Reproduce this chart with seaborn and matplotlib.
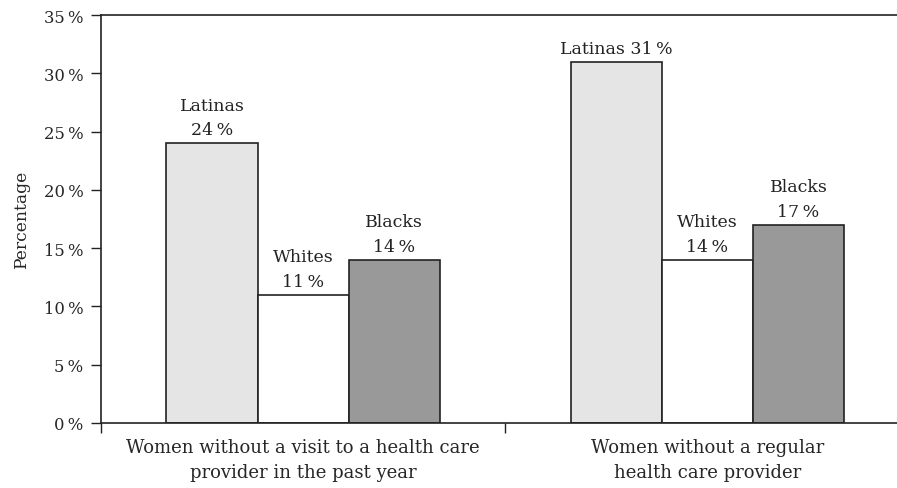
import matplotlib
matplotlib.use("Agg")
import matplotlib.pyplot as plt
from matplotlib.ticker import FixedLocator
import seaborn as sns
import pandas as pd

# Chart data
measures = ["Women without a visit to a health care\nprovider in the past year",
            "Women without a regular\nhealth care provider"]
groups = ["Latinas", "Whites", "Blacks"]
visit_values = [24, 11, 14]
regular_values = [31, 14, 17]
y_ticks = [0, 5, 10, 15, 20, 25, 30, 35]

df = pd.DataFrame({
    "measure": [measures[0]] * 3 + [measures[1]] * 3,
    "group": groups * 2,
    "value": visit_values + regular_values,
})

sns.set_theme(style="white")
plt.rcParams["font.family"] = ["DejaVu Serif"]
plt.rcParams["text.color"] = "#222222"

fig = plt.figure(figsize=(8.97, 4.89), dpi=100)
ax = fig.add_axes([101 / 897, 65 / 489, 796 / 897, 408 / 489])

palette = {"Latinas": "#e5e5e5", "Whites": "#ffffff", "Blacks": "#999999"}
sns.barplot(data=df, x="measure", y="value", hue="group", order=measures,
            hue_order=groups, palette=palette, width=0.676, saturation=1,
            edgecolor="#222222", linewidth=1.2, legend=False, ax=ax)

ax.set_xlim(-0.5, 1.469)
ax.set_ylim(0, 35)

# value labels above each bar
for container, grp in zip(ax.containers, groups):
    for bar, m in zip(container, measures):
        v = bar.get_height()
        cx = bar.get_x() + bar.get_width() / 2
        if grp == "Latinas" and m == measures[1]:
            txt = f"{grp} {v:.0f}\u2009%"
        else:
            txt = f"{grp}\n{v:.0f}\u2009%"
        ax.annotate(txt, (cx, v), xytext=(0, 3.5), textcoords="offset points",
                    ha="center", va="bottom", fontsize=12.5, linespacing=1.6,
                    color="#222222")

ax.yaxis.set_major_locator(FixedLocator(y_ticks))
ax.set_yticklabels([f"{t}\u2009%" for t in y_ticks], fontsize=11.8)
ax.tick_params(axis="y", direction="out", length=7.2, width=1, color="#222222",
               left=True, pad=5.5)

ax.set_xticks([0, 1])
ax.set_xticklabels(measures, fontsize=13, linespacing=1.5)
ax.tick_params(axis="x", which="major", length=0, pad=11)
ax.set_xticks([-0.5, 0.5], minor=True)
ax.tick_params(axis="x", which="minor", direction="out", length=7.2, width=1,
               color="#222222", bottom=True)

ax.set_xlabel("")
ax.set_ylabel("Percentage", fontsize=12.3, labelpad=10)

for side in ["left", "top", "bottom"]:
    ax.spines[side].set_visible(True)
    ax.spines[side].set_color("#222222")
    ax.spines[side].set_linewidth(1.2)
ax.spines["right"].set_visible(False)

fig.savefig("out.png", dpi=100)
